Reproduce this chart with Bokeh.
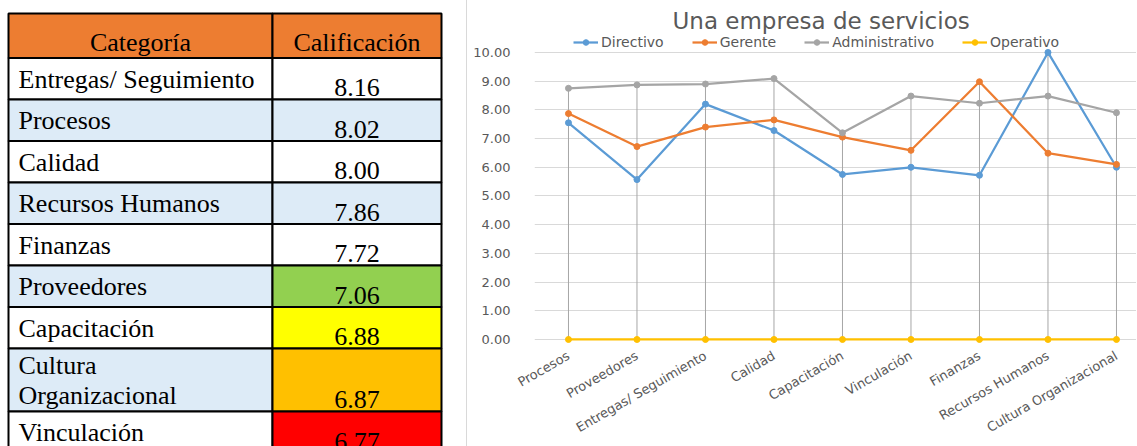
import math
import numpy as np
from bokeh.plotting import figure
from bokeh.layouts import row
from bokeh.models import (Range1d, FixedTicker, PrintfTickFormatter, Legend, LegendItem)
from bokeh.core.properties import value
from bokeh.embed import file_html
from bokeh.resources import INLINE

# ---------------- data ----------------
table_header = ["Categoría", "Calificación"]
table_categories = ["Entregas/ Seguimiento", "Procesos", "Calidad", "Recursos Humanos",
                    "Finanzas", "Proveedores", "Capacitación", "Cultura\nOrganizacional",
                    "Vinculación"]
table_scores = [8.16, 8.02, 8.00, 7.86, 7.72, 7.06, 6.88, 6.87, 6.77]

chart_title = "Una empresa de servicios"
chart_categories = ["Procesos", "Proveedores", "Entregas/ Seguimiento", "Calidad",
                    "Capacitación", "Vinculación", "Finanzas", "Recursos Humanos",
                    "Cultura Organizacional"]
directivo = [7.55, 5.57, 8.20, 7.28, 5.75, 6.00, 5.72, 10.00, 6.00]
gerente = [7.87, 6.72, 7.40, 7.65, 7.05, 6.59, 8.98, 6.49, 6.10]
administrativo = [8.75, 8.87, 8.90, 9.09, 7.20, 8.48, 8.23, 8.48, 7.90]
operativo = [0.0, 0.0, 0.0, 0.0, 0.0, 0.0, 0.0, 0.0, 0.0]
series_names = ["Directivo", "Gerente", "Administrativo", "Operativo"]

# ---------------- styles ----------------
SERIF = "Liberation Serif"
SANS = "DejaVu Sans"
header_fill = "#ED7D31"
stripe_fills = ["#FFFFFF", "#DDEBF7"]
score_highlight = {5: "#92D050", 6: "#FFFF00", 7: "#FFC000", 8: "#FF0000"}
series_colors = ["#5B9BD5", "#ED7D31", "#A5A5A5", "#FFC000"]
label_gray = "#595959"

# ---------------- table figure ----------------
TW, TH = 466, 446
tp = figure(width=TW, height=TH, x_range=Range1d(0, TW), y_range=Range1d(TH, 0),
            output_backend="svg", toolbar_location=None, min_border=0, frame_align=False)
tp.axis.visible = False
tp.grid.visible = False
tp.outline_line_color = None

col_l, col_m, col_r = 8, 272, 441
head_top, head_bot = 13, 57.5
base_h, extra_line_h = 41.5, 21.5
fsize = "26px"
txt_shift = 8          # compensation of the renderer's baseline placement
single_base, multi_base, line_gap, score_pad = 29, 25, 30, 4

tp.quad(left=[col_l, col_m], right=[col_m, col_r], top=[head_top, head_top],
        bottom=[head_bot, head_bot], fill_color=header_fill, line_color="black", line_width=2)
tp.text(x=[(col_l + col_m) / 2, (col_m + col_r) / 2], y=[head_bot - 7.5 - txt_shift] * 2,
        text=table_header, text_font=value(SERIF), text_font_size=fsize, text_align="center",
        text_baseline="alphabetic", text_color="black")

tops, bots = [], []
y = head_bot
for cat in table_categories:
    n = len(cat.split("\n"))
    h = base_h + (n - 1) * extra_line_h
    tops.append(y)
    bots.append(y + h)
    y += h

cat_fill = [stripe_fills[i % 2] for i in range(len(table_categories))]
score_fill = [score_highlight.get(i, stripe_fills[i % 2]) for i in range(len(table_categories))]
tp.quad(left=[col_l] * len(tops), right=[col_m] * len(tops), top=tops, bottom=bots,
        fill_color=cat_fill, line_color="black", line_width=2)
tp.quad(left=[col_m] * len(tops), right=[col_r] * len(tops), top=tops, bottom=bots,
        fill_color=score_fill, line_color="black", line_width=2)

tx, ty, tt = [], [], []
for i, cat in enumerate(table_categories):
    lines = cat.split("\n")
    first = single_base if len(lines) == 1 else multi_base
    for k, line in enumerate(lines):
        tx.append(col_l + 10)
        ty.append(tops[i] + first + k * line_gap - txt_shift)
        tt.append(line)
tp.text(x=tx, y=ty, text=tt, text_font=value(SERIF), text_font_size=fsize,
        text_align="left", text_baseline="alphabetic", text_color="black")
tp.text(x=[(col_m + col_r) / 2] * len(table_scores),
        y=[b - score_pad - txt_shift for b in bots],
        text=["%.2f" % s for s in table_scores], text_font=value(SERIF),
        text_font_size=fsize, text_align="center", text_baseline="alphabetic",
        text_color="black")

# ---------------- chart figure ----------------
CW, CH = 670, 446
xs = list(range(len(chart_categories)))
cp = figure(width=CW, height=CH, x_range=Range1d(-0.496, len(xs) - 1 + 0.307),
            y_range=Range1d(-0.14, 10.66), output_backend="svg", toolbar_location=None,
            min_border_left=67, min_border_right=0, min_border_top=33, min_border_bottom=103,
            title=chart_title, frame_align=False)
cp.title.align = "left"
cp.title.text_font = SANS
cp.title.text_font_size = "23px"
cp.title.text_font_style = "normal"
cp.title.text_color = label_gray
cp.title.standoff = 0
cp.title.offset = 138
cp.outline_line_color = None
cp.styles = {"border-left": "1px solid #d9d9d9"}

cp.xgrid.visible = False
cp.ygrid.ticker = FixedTicker(ticks=list(range(0, 11)))
cp.ygrid.grid_line_color = "#d9d9d9"

cp.yaxis.ticker = FixedTicker(ticks=list(range(0, 11)))
cp.yaxis.formatter = PrintfTickFormatter(format="%.2f")
cp.xaxis.ticker = FixedTicker(ticks=xs)
cp.xaxis.major_label_overrides = {i: c for i, c in enumerate(chart_categories)}
cp.xaxis.major_label_orientation = math.pi / 6
for ax in (cp.xaxis, cp.yaxis):
    ax.axis_line_color = None
    ax.major_tick_line_color = None
    ax.minor_tick_line_color = None
    ax.major_label_text_font = SANS
    ax.major_label_text_font_size = "13px"
    ax.major_label_text_color = label_gray
cp.yaxis.major_label_standoff = 18
cp.xaxis.major_label_standoff = 5

all_series = [directivo, gerente, administrativo, operativo]
drop_top = np.max(np.array(all_series), axis=0)
cp.segment(x0=xs, y0=[0] * len(xs), x1=xs, y1=drop_top, line_color="#a6a6a6", line_width=1)

items = []
for name, vals, color in zip(series_names, all_series, series_colors):
    l = cp.line(xs, vals, line_color=color, line_width=2.25)
    s = cp.scatter(xs, vals, size=6, fill_color=color, line_color=color)
    items.append(LegendItem(label=name, renderers=[l, s]))

legend = Legend(items=items, orientation="horizontal", location=(39, 293),
                label_text_font=SANS, label_text_font_size="14px", label_text_color=label_gray,
                glyph_width=25, glyph_height=14, label_height=14, label_standoff=3, spacing=28,
                padding=0, margin=0, border_line_color=None, background_fill_alpha=0)
cp.add_layout(legend, "center")

layout = row(tp, cp)
open("out.html", "w").write(file_html(layout, INLINE))
